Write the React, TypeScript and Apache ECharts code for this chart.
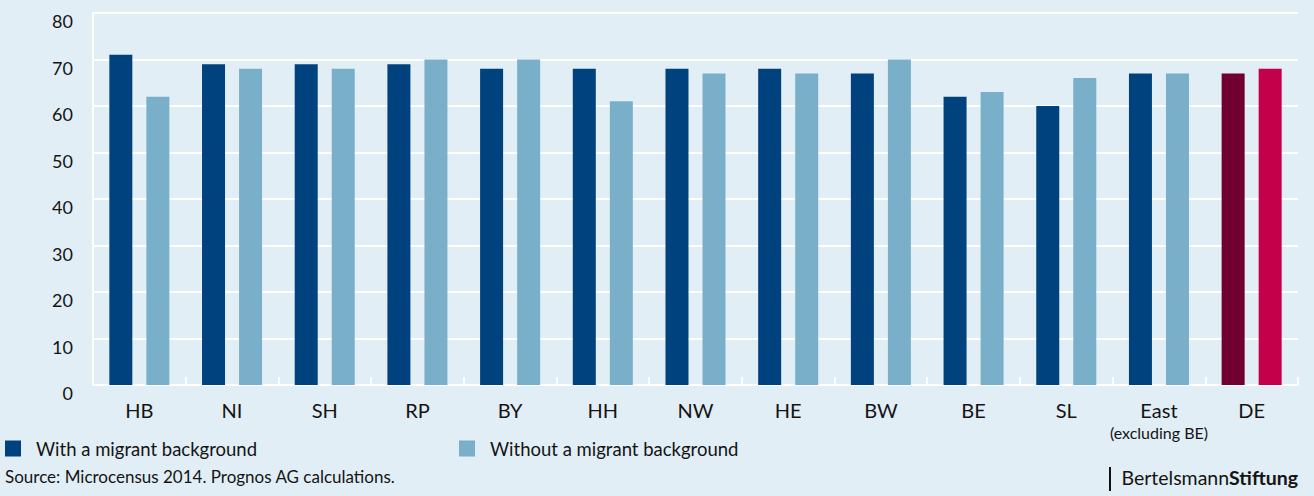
import React, { useEffect, useRef } from "react";
import * as echarts from "echarts";

const categories = ["HB", "NI", "SH", "RP", "BY", "HH", "NW", "HE", "BW", "BE", "SL", "East", "DE"];
const withMigrant = [71, 69, 69, 69, 68, 68, 68, 68, 67, 62, 60, 67, 67];
const withoutMigrant = [62, 68, 68, 70, 70, 61, 67, 67, 70, 63, 66, 67, 68];
const seriesNames = ["With a migrant background", "Without a migrant background"];
const yTicks = { min: 0, max: 80, interval: 10 };
const sourceText = "Source: Microcensus 2014. Prognos AG calculations.";

const DARK = "#00427e";
const LIGHT = "#7aafca";
const DE_DARK = "#6f0030";
const DE_LIGHT = "#c4004a";
const BG = "#e1eef5";
const TEXT = "#141414";
const FONT = "Lato";

export default function App() {
  const ref = useRef<HTMLDivElement>(null);
  useEffect(() => {
    document.body.style.margin = "0";
    const chart = echarts.init(ref.current!, null, { renderer: "svg" });
    const mk = (vals: number[], highlight: string) =>
      vals.map((v, i) =>
        categories[i] === "DE" ? { value: v, itemStyle: { color: highlight } } : v
      );
    chart.setOption({
      animation: false,
      backgroundColor: BG,
      textStyle: { fontFamily: FONT },
      grid: { left: 93, right: 16, top: 13, bottom: 111, containLabel: false },
      xAxis: {
        type: "category",
        data: categories,
        boundaryGap: true,
        axisLine: { show: true, lineStyle: { color: "#ffffff", width: 2 } },
        axisTick: { show: true, inside: true, length: 8, alignWithLabel: false, lineStyle: { color: "#ffffff", width: 2 } },
        axisLabel: {
          color: TEXT,
          fontSize: 20,
          fontFamily: FONT,
          margin: 14,
          lineHeight: 22,
          interval: 0,
          formatter: (v: string) => (v === "East" ? "East\n{s|(excluding BE)}" : v),
          rich: { s: { fontSize: 16, lineHeight: 22, color: TEXT, fontFamily: FONT } },
        },
      },
      yAxis: {
        type: "value",
        min: yTicks.min,
        max: yTicks.max,
        interval: yTicks.interval,
        axisLine: { show: true, lineStyle: { color: "#ffffff", width: 2 } },
        axisTick: { show: false },
        splitLine: { show: true, lineStyle: { color: "#ffffff", width: 2 } },
        axisLabel: { color: TEXT, fontSize: 18, fontFamily: FONT, margin: 20, verticalAlign: "top", padding: [-1, 0, 0, 0] },
      },
      legend: [
        {
          data: [seriesNames[0]],
          left: 5,
          top: 439,
          icon: "rect",
          itemWidth: 16,
          itemHeight: 16,
          padding: 0,
          textStyle: { color: TEXT, fontSize: 18.5, fontFamily: FONT, padding: [0, 0, 0, 10] },
          selectedMode: false,
        },
        {
          data: [seriesNames[1]],
          left: 459,
          top: 439,
          icon: "rect",
          itemWidth: 16,
          itemHeight: 16,
          padding: 0,
          textStyle: { color: TEXT, fontSize: 18.5, fontFamily: FONT, padding: [0, 0, 0, 10] },
          selectedMode: false,
        },
      ],
      series: [
        {
          name: seriesNames[0],
          type: "bar",
          data: mk(withMigrant, DE_DARK),
          itemStyle: { color: DARK },
          barWidth: 23,
          barGap: "61%",
        },
        {
          name: seriesNames[1],
          type: "bar",
          data: mk(withoutMigrant, DE_LIGHT),
          itemStyle: { color: LIGHT },
          barWidth: 23,
          barGap: "61%",
        },
      ],
      graphic: [
        {
          type: "text",
          left: 5,
          top: 468,
          style: { text: sourceText, fontSize: 17, fill: TEXT, fontFamily: FONT },
        },
        {
          type: "line",
          shape: { x1: 1110, y1: 467, x2: 1110, y2: 491 },
          style: { stroke: "#111111", lineWidth: 2 },
        },
        {
          type: "text",
          right: 16,
          top: 467,
          style: {
            text: "{r|Bertelsmann}{b|Stiftung}",
            rich: {
              r: { fontSize: 19.5, fill: TEXT, fontFamily: FONT, fontWeight: "normal" },
              b: { fontSize: 19.5, fill: TEXT, fontFamily: FONT, fontWeight: "bold" },
            },
          },
        },
      ],
    });
    return () => chart.dispose();
  }, []);
  return <div ref={ref} style={{ position: "fixed", left: 0, top: 0, width: 1314, height: 496 }} />;
}
